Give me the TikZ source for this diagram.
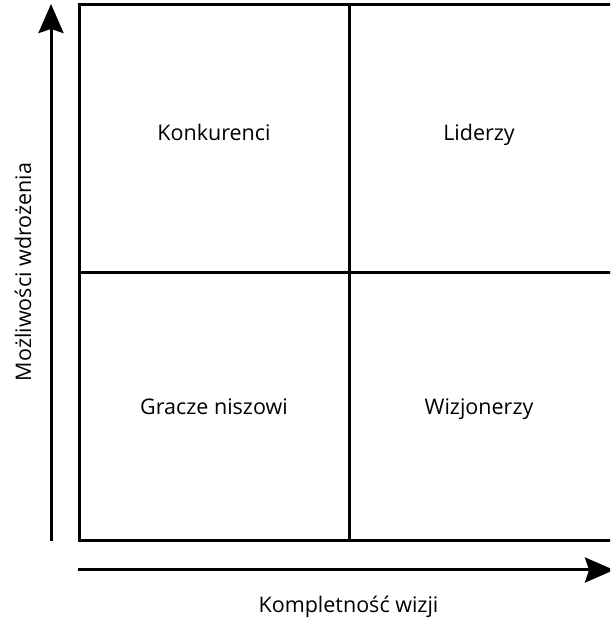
\documentclass[tikz,border=0pt]{standalone}
\usepackage{fontspec}
\setmainfont{Open Sans}
\usetikzlibrary{arrows.meta}
\begin{document}
\begin{tikzpicture}[x=1pt,y=1pt,
  frame/.style={line width=3pt},
  axis/.style={line width=3pt,-{Stealth[length=29pt,width=25pt,inset=4pt]}},
  lbl/.style={font=\fontsize{21.5}{24}\selectfont, text=black, inner sep=0pt, anchor=base}]
\useasboundingbox (0,0) rectangle (610,620);
\clip (0,0) rectangle (610,620);
\fill[white] (0,0) rectangle (610,620);
% frame
\coordinate (bl) at (79,79);
\coordinate (tr) at (640,615.5);
\draw[frame] (bl) rectangle (tr);
\coordinate (mvt) at (349,615.5);
\coordinate (mvb) at (349,79);
\coordinate (mhl) at (79,347.5);
\coordinate (mhr) at (640,347.5);
\draw[frame] (mvt) -- (mvb);
\draw[frame] (mhl) -- (mhr);
% axes
\coordinate (ys) at (51,79);
\coordinate (ye) at (51,616);
\draw[axis] (ys) -- (ye);
\coordinate (xs) at (78,50);
\coordinate (xe) at (614,50);
\draw[axis] (xs) -- (xe);
% labels
\node[lbl] (k) at (214,479.5) {Konkurenci};
\node[lbl] (l) at (479,479.5) {Liderzy};
\node[lbl] (g) at (214,205) {Gracze niszowi};
\node[lbl] (w) at (479,205) {Wizjonerzy};
\node[lbl] (kx) at (348.5,7.5) {Kompletność wizji};
\node[lbl,rotate=90,anchor=center] (ky) at (23,348) {Możliwości wdrożenia};
\end{tikzpicture}
\end{document}
